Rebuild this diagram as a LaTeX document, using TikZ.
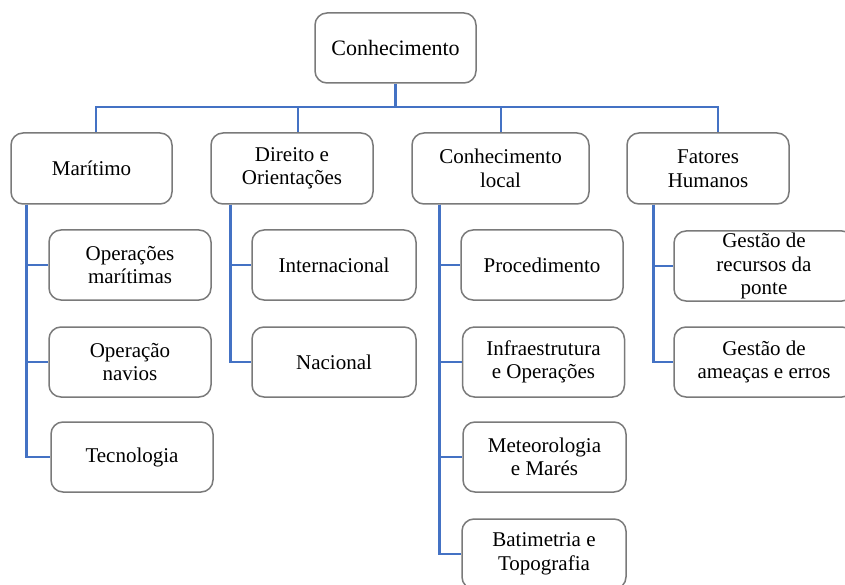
\documentclass[tikz,border=0pt]{standalone}
\usepackage{fontspec}
\setmainfont{Liberation Serif}
\begin{document}
\begin{tikzpicture}[x=1pt,y=-1pt,
  box/.style={draw=black!52, line width=1.5pt, rounded corners=12pt, fill=white,
    inner sep=0pt, align=center, font=\fontsize{21}{23.5}\selectfont},
  conn/.style={draw={rgb,255:red,68;green,114;blue,196}, line width=2.8pt}]
\clip (0,0) rectangle (845,585);
\fill[white] (0,0) rectangle (845,585);
% boxes: center, width, height
\node[box, minimum width=161pt, minimum height=70pt, font=\fontsize{22}{25}\selectfont] (root) at (395.5,48) {Conhecimento};
\node[box, minimum width=161pt, minimum height=71pt] (mar) at (91.5,168.5) {Marítimo};
\node[box, minimum width=162pt, minimum height=71pt] (dir) at (292,168.5) {Direito e\\Orientações};
\node[box, minimum width=177pt, minimum height=71pt] (loc) at (500.5,168.5) {Conhecimento\\local};
\node[box, minimum width=162pt, minimum height=71pt] (hum) at (708,168.5) {Fatores\\Humanos};
% Maritimo children
\node[box, minimum width=162pt, minimum height=70pt] (om) at (130,265) {Operações\\marítimas};
\node[box, minimum width=162pt, minimum height=70pt] (on) at (130,362) {Operação\\navios};
\node[box, minimum width=162pt, minimum height=70pt] (tec) at (132,457) {Tecnologia};
% Direito children
\node[box, minimum width=164pt, minimum height=70pt] (int) at (334,265) {Internacional};
\node[box, minimum width=164pt, minimum height=70pt] (nac) at (334,362) {Nacional};
% Conhecimento local children
\node[box, minimum width=162pt, minimum height=70pt] (proc) at (542,265) {Procedimento};
\node[box, minimum width=162pt, minimum height=70pt] (inf) at (543.5,362) {Infraestrutura\\e Operações};
\node[box, minimum width=163pt, minimum height=70pt] (met) at (544.5,457) {Meteorologia\\e Marés};
\node[box, minimum width=164pt, minimum height=70pt] (bat) at (544,554) {Batimetria e\\Topografia};
% Fatores children
\node[box, minimum width=180pt, minimum height=70pt] (grp) at (764,266) {Gestão de\\recursos da\\ponte};
\node[box, minimum width=180pt, minimum height=70pt] (gae) at (764,362) {Gestão de\\ameaças e erros};
% stem and spine points
\coordinate (bar) at (0,107);
\coordinate (sm) at ([xshift=4.5pt]mar.north);
\coordinate (sd) at ([xshift=6pt]dir.north);
\coordinate (sl) at ([xshift=0.5pt]loc.north);
\coordinate (sh) at ([xshift=10pt]hum.north);
\coordinate (pm) at ([xshift=16pt]mar.south west);
\coordinate (pd) at ([xshift=20pt]dir.south west);
\coordinate (pl) at ([xshift=28pt]loc.south west);
\coordinate (ph) at ([xshift=27pt]hum.south west);
% connectors
\draw[conn] (root.south) -- (root.south |- bar);
\draw[conn] (sm) |- (bar -| sh) -- (sh);
\draw[conn] (sd) -- (sd |- bar);
\draw[conn] (sl) -- (sl |- bar);
% spines
\draw[conn] (pm) |- (tec.west);
\draw[conn] (pm) |- (om.west);
\draw[conn] (pm) |- (on.west);
\draw[conn] (pd) |- (nac.west);
\draw[conn] (pd) |- (int.west);
\draw[conn] (pl) |- (bat.west);
\draw[conn] (pl) |- (proc.west);
\draw[conn] (pl) |- (inf.west);
\draw[conn] (pl) |- (met.west);
\draw[conn] (ph) |- (gae.west);
\draw[conn] (ph) |- (grp.west);
\end{tikzpicture}
\end{document}
